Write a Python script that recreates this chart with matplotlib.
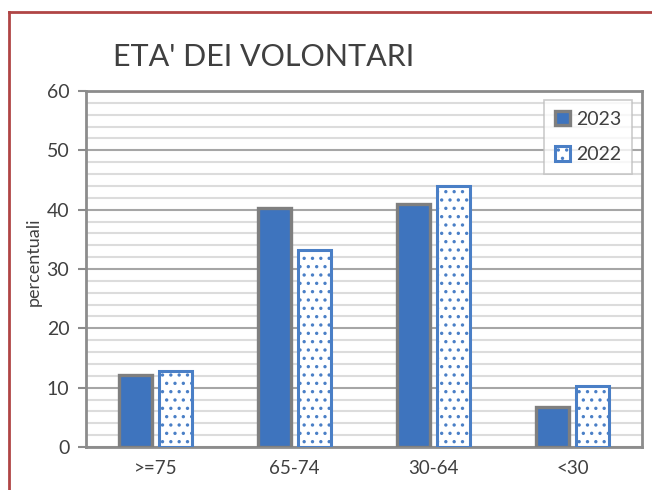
import numpy as np
import matplotlib.pyplot as plt
from matplotlib.lines import Line2D
from matplotlib.ticker import MultipleLocator

plt.rcParams['font.family'] = ['Lato', 'DejaVu Sans']
plt.rcParams['hatch.linewidth'] = 1.2

categories = [">=75", "65-74", "30-64", "<30"]
v2023 = [12.1, 40.3, 41.0, 6.7]
v2022 = [12.8, 33.2, 44.0, 10.3]

fig = plt.figure(figsize=(6.52, 4.9), dpi=100)
ax = fig.add_axes([86/652, 1 - 447/490, (642-86)/652, (447-91)/490])

x = np.arange(len(categories))
w = 0.235
ax.bar(x - 0.143, v2023, w, color="#3e74be", edgecolor="#7f7f7f", linewidth=2.4, label="2023", zorder=3)
ax.bar(x + 0.143, v2022, w, color="white", edgecolor="#4a7fc6", hatch="..", linewidth=2.2, label="2022", zorder=3)

ax.set_xlim(-0.5, 3.5)
ax.set_ylim(0, 60)
ax.yaxis.set_major_locator(MultipleLocator(10))
ax.yaxis.set_minor_locator(MultipleLocator(2))
ax.grid(which="major", axis="y", color="#a6a6a6", linewidth=1.5, zorder=0)
ax.grid(which="minor", axis="y", color="#dcdcdc", linewidth=1.5, zorder=0)
ax.set_xticks(x)
ax.set_xticklabels(categories)
ax.tick_params(axis="x", length=0, pad=9, labelsize=13.5, labelcolor="#404040")
ax.tick_params(axis="y", which="major", length=6, width=1.5, color="#8c8c8c", labelsize=14, labelcolor="#404040", pad=6)
ax.tick_params(axis="y", which="minor", length=0)
for s in ax.spines.values():
    s.set_color("#8c8c8c")
    s.set_linewidth(2)
ax.set_axisbelow(True)

ax.set_ylabel("percentuali", fontsize=13, color="#404040")
ax.yaxis.set_label_coords(-0.08, 0.52)

leg = ax.legend(loc="upper right", bbox_to_anchor=(0.982, 0.975), borderaxespad=0, fontsize=14, frameon=True,
                fancybox=False, edgecolor="#bfbfbf", handlelength=0.8, handleheight=0.8,
                handletextpad=0.3, borderpad=0.55, labelspacing=0.95)
leg.get_frame().set_linewidth(1.2)
for t in leg.get_texts():
    t.set_color("#404040")

fig.text(113/652, 1 - 57/490, "ETA' DEI VOLONTARI", fontsize=22, color="#404040", va="center", ha="left")

fig.add_artist(Line2D([9/652, 9/652], [0, 1 - 12/490], color="#b04545", linewidth=2))
fig.add_artist(Line2D([9/652, 1], [1 - 12/490, 1 - 12/490], color="#b04545", linewidth=2))

fig.savefig("out.png", dpi=100)
